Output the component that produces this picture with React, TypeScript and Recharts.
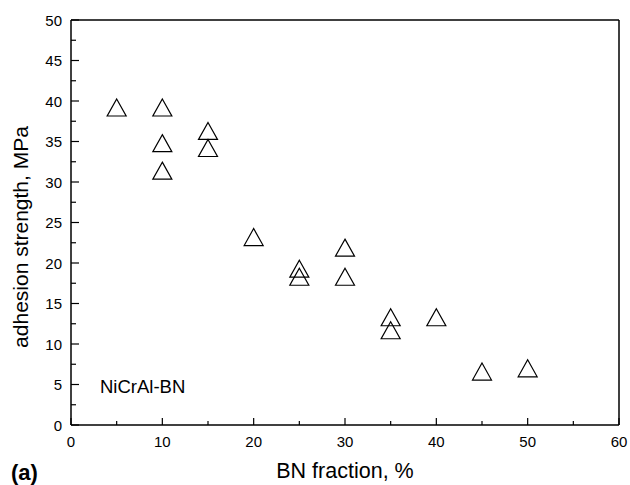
import { ScatterChart, Scatter, XAxis, YAxis, ReferenceLine } from "recharts";

const bnFraction = [5, 10, 10, 10, 15, 15, 20, 25, 25, 30, 30, 35, 35, 40, 45, 50];
const adhesion = [39.2, 39.2, 34.8, 31.4, 36.3, 34.2, 23.2, 19.3, 18.3, 21.9, 18.3, 13.3, 11.7, 13.3, 6.6, 7.0];
const xTicks = [0, 5, 10, 15, 20, 25, 30, 35, 40, 45, 50, 55, 60];
const yTicks = [0, 2.5, 5, 7.5, 10, 12.5, 15, 17.5, 20, 22.5, 25, 27.5, 30, 32.5, 35, 37.5, 40, 42.5, 45, 47.5, 50];

const points = bnFraction.map((x, i) => ({ x, y: adhesion[i] }));

const font = "'Liberation Sans', Arial, sans-serif";

function XTick({ x, y, payload }: any) {
  const major = payload.value % 10 === 0;
  return (
    <g>
      <line x1={x} x2={x} y1={y} y2={y - (major ? 7 : 4)} stroke="#000" strokeWidth={1.2} />
      {major && (
        <text x={x} y={y + 22} textAnchor="middle" fontSize={15} fontFamily={font} fill="#000">
          {payload.value}
        </text>
      )}
    </g>
  );
}

function YTick({ x, y, payload }: any) {
  const major = payload.value % 5 === 0;
  return (
    <g>
      <line x1={x} x2={x + (major ? 8 : 5)} y1={y} y2={y} stroke="#000" strokeWidth={1.2} />
      {major && (
        <text x={x - 9} y={y + 5.5} textAnchor="end" fontSize={15} fontFamily={font} fill="#000">
          {payload.value}
        </text>
      )}
    </g>
  );
}

function Triangle({ cx, cy }: any) {
  if (cx == null || cy == null) return null;
  const w = 9.5;
  const h = 8.5;
  return (
    <path
      d={`M${cx},${cy - h} L${cx + w},${cy + h} L${cx - w},${cy + h} Z`}
      fill="none"
      stroke="#000"
      strokeWidth={1.2}
    />
  );
}

export default function App() {
  return (
    <div style={{ position: "absolute", left: 0, top: 0, width: 630, height: 485, background: "#fff" }}>
      <ScatterChart width={630} height={485} margin={{ top: 20, right: 11, bottom: 0, left: 0 }}>
        <XAxis
          type="number"
          dataKey="x"
          domain={[0, 60]}
          ticks={xTicks}
          interval={0}
          tick={<XTick />}
          tickLine={false}
          tickSize={0}
          tickMargin={0}
          axisLine={{ stroke: "#000", strokeWidth: 1.5 }}
          height={60}
        />
        <YAxis
          type="number"
          dataKey="y"
          domain={[0, 50]}
          ticks={yTicks}
          interval={0}
          tick={<YTick />}
          tickLine={false}
          tickSize={0}
          tickMargin={0}
          axisLine={{ stroke: "#000", strokeWidth: 1.5 }}
          width={71}
        />
        <ReferenceLine y={50} stroke="#000" strokeWidth={1.5} />
        <ReferenceLine x={60} stroke="#000" strokeWidth={1.5} />
        <Scatter data={points} shape={<Triangle />} isAnimationActive={false} />
        <text x={100} y={393} fontSize={18.5} fontFamily={font} fill="#000">
          NiCrAl-BN
        </text>
        <text x={345} y={478} textAnchor="middle" fontSize={21.5} fontFamily={font} fill="#000">
          BN fraction, %
        </text>
        <text
          x={28}
          y={237}
          textAnchor="middle"
          transform="rotate(-90 28 237)"
          fontSize={21}
          fontFamily={font}
          fill="#000"
        >
          adhesion strength, MPa
        </text>
        <text x={11} y={480} fontSize={22} fontWeight="bold" fontFamily={font} fill="#000">
          (a)
        </text>
      </ScatterChart>
    </div>
  );
}
